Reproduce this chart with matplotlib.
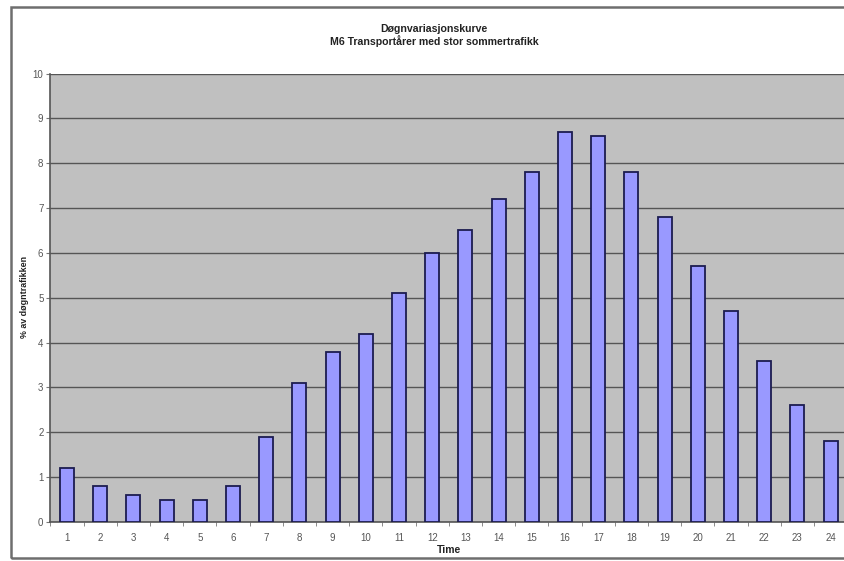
import matplotlib
matplotlib.use("Agg")
import matplotlib.pyplot as plt
from matplotlib.patches import Rectangle
import numpy as np

plt.rcParams['font.family'] = ['Liberation Sans', 'DejaVu Sans']

hours = [str(h) for h in range(1, 25)]
share = [1.2, 0.8, 0.6, 0.5, 0.5, 0.8, 1.9, 3.1, 3.8, 4.2, 5.1, 6.0,
         6.5, 7.2, 7.8, 8.7, 8.6, 7.8, 6.8, 5.7, 4.7, 3.6, 2.6, 1.8]
y_ticks = list(range(0, 11))

W, H = 845, 561
fig = plt.figure(figsize=(W / 100, H / 100), dpi=100)
fig.patch.set_facecolor('white')

# chart-area frame
fig.add_artist(Rectangle((11 / W, 1 - 558 / H), (900 - 11) / W, (558 - 7) / H,
                         transform=fig.transFigure, fill=False,
                         edgecolor='#6e6e6e', linewidth=1.8))

x = np.arange(len(hours))
left, right = 50.4, 847.2
top, bottom = 73.5, 522.0
ax = fig.add_axes([left / W, 1 - bottom / H, (right - left) / W, (bottom - top) / H])
ax.set_facecolor('#c0c0c0')

ax.bar(x, share, width=0.42, color='#9999ff', edgecolor='#1c1c50', linewidth=1.3,
       zorder=3)

ax.set_xlim(-0.5, len(hours) - 0.5)
ax.set_ylim(0, 10)
ax.set_yticks(y_ticks)
ax.set_yticklabels([str(v) for v in y_ticks])
ax.yaxis.grid(True, color='#555555', linewidth=1.0, zorder=1)
ax.set_axisbelow(True)

ax.set_xticks(x)
ax.set_xticklabels(hours)
ax.set_xticks(np.arange(-0.5, len(hours)), minor=True)
ax.tick_params(axis='x', which='major', length=0, pad=8, labelsize=7, labelcolor='#555555')
ax.tick_params(axis='x', which='minor', length=3, color='#777777', direction='out')
ax.tick_params(axis='y', length=3, color='#777777', pad=2, labelsize=7, labelcolor='#555555')

for side in ('top', 'right'):
    ax.spines[side].set_visible(False)
for side in ('left', 'bottom'):
    ax.spines[side].set_color('#555555')
    ax.spines[side].set_linewidth(1.2)

fig.text(434 / W, 1 - 28.5 / H, 'Døgnvariasjonskurve', ha='center', va='center',
         fontsize=7.6, fontweight='bold', color='#222222')
fig.text(434 / W, 1 - 41 / H, 'M6 Transportårer med stor sommertrafikk', ha='center',
         va='center', fontsize=7.6, fontweight='bold', color='#222222')
fig.text(25 / W, 1 - 297 / H, '% av døgntrafikken', rotation=90, ha='center',
         va='center', fontsize=6.4, fontweight='bold', color='#222222')
fig.text(449 / W, 1 - 550 / H, 'Time', ha='center', va='center',
         fontsize=7.5, fontweight='bold', color='#222222')

fig.savefig('out.png', dpi=100)
